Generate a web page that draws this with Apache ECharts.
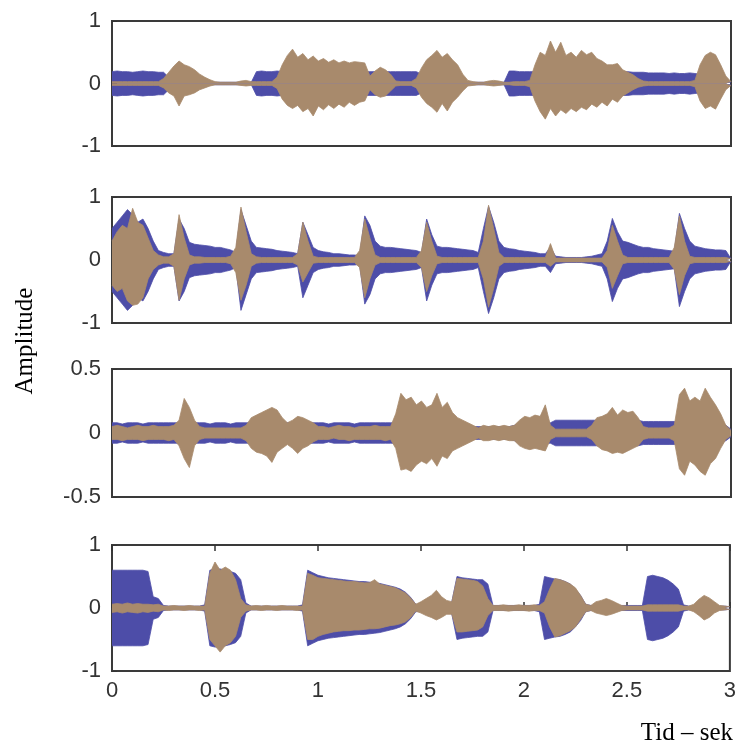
<!DOCTYPE html>
<html>
<head>
<meta charset="utf-8">
<script src="https://cdn.jsdelivr.net/npm/echarts@6/dist/echarts.min.js"></script>
<style>
    html, body { margin: 0; padding: 0; background: #fff; }
    #chart { width: 739px; height: 744px; }
</style>
</head>
<body>
<div id="chart"></div>
<script>
    // envelopes, one value every 0.025 s (0 .. 3 s)
    var dt = 0.025;
    var tidTicks = [0, 0.5, 1, 1.5, 2, 2.5, 3];

    // panel 1
    var blue1 = [
        0.19, 0.2, 0.19, 0.19, 0.18, 0.19, 0.2, 0.19, 0.19, 0.18,
        0.18, 0.1, 0.02, 0.02, 0.02, 0.02, 0.02, 0.02, 0.02, 0.02,
        0.02, 0.02, 0.02, 0.02, 0.02, 0.02, 0.02, 0.02, 0.19, 0.2,
        0.19, 0.19, 0.2, 0.19, 0.19, 0.19, 0.19, 0.2, 0.19, 0.19,
        0.19, 0.19, 0.19, 0.2, 0.19, 0.19, 0.19, 0.19, 0.19, 0.19,
        0.19, 0.19, 0.19, 0.19, 0.19, 0.19, 0.19, 0.19, 0.19, 0.19,
        0.15, 0.02, 0.02, 0.02, 0.02, 0.02, 0.02, 0.02, 0.02, 0.02,
        0.02, 0.02, 0.02, 0.02, 0.02, 0.02, 0.02, 0.2, 0.2, 0.19,
        0.19, 0.19, 0.19, 0.19, 0.19, 0.19, 0.19, 0.19, 0.19, 0.19,
        0.19, 0.19, 0.19, 0.19, 0.19, 0.19, 0.19, 0.19, 0.19, 0.19,
        0.19, 0.18, 0.18, 0.18, 0.17, 0.17, 0.17, 0.17, 0.16, 0.17,
        0.16, 0.16, 0.17, 0.16, 0.15, 0.04, 0.02, 0.02, 0.02, 0.02,
        0.02
    ];
    var brown1Top = [
        0.03, 0.03, 0.03, 0.03, 0.03, 0.03, 0.03, 0.03, 0.03, 0.03,
        0.08, 0.18, 0.28, 0.36, 0.3, 0.27, 0.22, 0.15, 0.1, 0.06,
        0.03, 0.02, 0.02, 0.02, 0.02, 0.04, 0.05, 0.03, 0.03, 0.03,
        0.03, 0.03, 0.1, 0.3, 0.45, 0.55, 0.42, 0.48, 0.38, 0.44,
        0.36, 0.4, 0.34, 0.38, 0.33, 0.36, 0.33, 0.35, 0.34, 0.33,
        0.12, 0.2, 0.26, 0.22, 0.15, 0.04, 0.03, 0.03, 0.03, 0.08,
        0.25, 0.38, 0.45, 0.53, 0.42, 0.48, 0.38, 0.3, 0.15, 0.05,
        0.03, 0.02, 0.02, 0.04, 0.05, 0.04, 0.02, 0.02, 0.03, 0.03,
        0.03, 0.05, 0.3, 0.5, 0.45, 0.68, 0.5, 0.66, 0.45, 0.5,
        0.42, 0.53, 0.46, 0.5, 0.4, 0.36, 0.3, 0.3, 0.32, 0.22,
        0.18, 0.14, 0.08, 0.04, 0.03, 0.03, 0.03, 0.03, 0.03, 0.03,
        0.03, 0.03, 0.03, 0.05, 0.3, 0.45, 0.5, 0.46, 0.3, 0.12,
        0.03
    ];
    var brown1Bot = [
        0.03, 0.03, 0.03, 0.03, 0.03, 0.03, 0.03, 0.03, 0.03, 0.03,
        0.07, 0.15, 0.2, 0.36, 0.2, 0.18, 0.15, 0.1, 0.07, 0.04,
        0.02, 0.02, 0.02, 0.02, 0.02, 0.03, 0.04, 0.03, 0.03, 0.03,
        0.03, 0.03, 0.08, 0.25, 0.35, 0.4, 0.35, 0.45, 0.4, 0.52,
        0.36, 0.42, 0.34, 0.4, 0.33, 0.38, 0.3, 0.35, 0.3, 0.28,
        0.1, 0.18, 0.22, 0.2, 0.12, 0.04, 0.03, 0.03, 0.03, 0.07,
        0.22, 0.32, 0.38, 0.46, 0.32, 0.44, 0.3, 0.22, 0.12, 0.04,
        0.03, 0.02, 0.02, 0.03, 0.04, 0.03, 0.02, 0.02, 0.03, 0.03,
        0.03, 0.05, 0.28, 0.45, 0.57, 0.4, 0.52, 0.42, 0.48, 0.4,
        0.45, 0.38, 0.42, 0.33, 0.38, 0.3, 0.36, 0.25, 0.3, 0.2,
        0.15, 0.1, 0.06, 0.04, 0.03, 0.03, 0.03, 0.03, 0.03, 0.03,
        0.03, 0.03, 0.03, 0.05, 0.28, 0.4, 0.36, 0.41, 0.25, 0.1,
        0.03
    ];

    // panel 2
    var blue2 = [
        0.5, 0.6, 0.7, 0.8, 0.72, 0.6, 0.65, 0.5, 0.3, 0.15,
        0.12, 0.1, 0.1, 0.65, 0.5, 0.28, 0.25, 0.24, 0.23, 0.22,
        0.2, 0.2, 0.18, 0.16, 0.12, 0.8, 0.55, 0.3, 0.2, 0.19,
        0.18, 0.17, 0.15, 0.14, 0.13, 0.12, 0.1, 0.6, 0.4, 0.2,
        0.15, 0.13, 0.12, 0.1, 0.1, 0.09, 0.08, 0.08, 0.07, 0.7,
        0.55, 0.3, 0.22, 0.2, 0.2, 0.19, 0.18, 0.17, 0.16, 0.15,
        0.12, 0.65, 0.4, 0.22, 0.2, 0.2, 0.19, 0.18, 0.17, 0.16,
        0.15, 0.12, 0.5, 0.85, 0.6, 0.3, 0.2, 0.18, 0.17, 0.15,
        0.14, 0.13, 0.12, 0.1, 0.1, 0.2, 0.06, 0.05, 0.04, 0.04,
        0.04, 0.04, 0.05, 0.06, 0.08, 0.1, 0.3, 0.66, 0.45, 0.3,
        0.28, 0.25, 0.22, 0.2, 0.2, 0.18, 0.17, 0.16, 0.15, 0.14,
        0.74, 0.5, 0.3, 0.22, 0.2, 0.18, 0.17, 0.16, 0.16, 0.15,
        0.02
    ];
    var brown2Top = [
        0.3, 0.45, 0.55, 0.5, 0.82, 0.6, 0.55, 0.35, 0.15, 0.08,
        0.05, 0.05, 0.1, 0.72, 0.35, 0.08, 0.05, 0.05, 0.04, 0.04,
        0.04, 0.04, 0.04, 0.06, 0.2, 0.84, 0.45, 0.1, 0.05, 0.04,
        0.04, 0.04, 0.04, 0.04, 0.04, 0.04, 0.1, 0.6, 0.3, 0.06,
        0.04, 0.04, 0.04, 0.04, 0.04, 0.04, 0.04, 0.04, 0.15, 0.65,
        0.35, 0.08, 0.04, 0.04, 0.04, 0.04, 0.04, 0.04, 0.04, 0.04,
        0.15, 0.6, 0.3, 0.06, 0.04, 0.04, 0.04, 0.04, 0.04, 0.04,
        0.04, 0.04, 0.3, 0.87, 0.5, 0.12, 0.04, 0.04, 0.04, 0.04,
        0.04, 0.04, 0.04, 0.04, 0.04, 0.26, 0.03, 0.03, 0.03, 0.03,
        0.03, 0.03, 0.03, 0.03, 0.03, 0.03, 0.15, 0.55, 0.3, 0.08,
        0.04, 0.04, 0.04, 0.04, 0.04, 0.04, 0.04, 0.04, 0.04, 0.2,
        0.7, 0.3, 0.06, 0.04, 0.04, 0.04, 0.04, 0.04, 0.04, 0.04,
        0.02
    ];
    var brown2Bot = [
        0.4, 0.5, 0.45, 0.65, 0.72, 0.7, 0.6, 0.3, 0.15, 0.08,
        0.05, 0.05, 0.1, 0.64, 0.3, 0.08, 0.05, 0.05, 0.04, 0.04,
        0.04, 0.04, 0.04, 0.06, 0.2, 0.64, 0.4, 0.1, 0.05, 0.04,
        0.04, 0.04, 0.04, 0.04, 0.04, 0.04, 0.08, 0.35, 0.2, 0.05,
        0.04, 0.04, 0.04, 0.04, 0.04, 0.04, 0.04, 0.04, 0.12, 0.6,
        0.3, 0.08, 0.04, 0.04, 0.04, 0.04, 0.04, 0.04, 0.04, 0.04,
        0.12, 0.5, 0.25, 0.06, 0.04, 0.04, 0.04, 0.04, 0.04, 0.04,
        0.04, 0.04, 0.3, 0.75, 0.45, 0.1, 0.04, 0.04, 0.04, 0.04,
        0.04, 0.04, 0.04, 0.04, 0.04, 0.1, 0.03, 0.03, 0.03, 0.03,
        0.03, 0.03, 0.03, 0.03, 0.03, 0.03, 0.12, 0.45, 0.25, 0.06,
        0.04, 0.04, 0.04, 0.04, 0.04, 0.04, 0.04, 0.04, 0.04, 0.15,
        0.55, 0.25, 0.06, 0.04, 0.04, 0.04, 0.04, 0.04, 0.04, 0.04,
        0.02
    ];

    // panel 3 (range +-0.5)
    var blue3 = [
        0.08, 0.08, 0.07, 0.08, 0.08, 0.08, 0.07, 0.08, 0.08, 0.08,
        0.08, 0.08, 0.08, 0.08, 0.08, 0.08, 0.08, 0.08, 0.08, 0.07,
        0.08, 0.08, 0.08, 0.07, 0.08, 0.08, 0.08, 0.08, 0.08, 0.08,
        0.08, 0.08, 0.08, 0.08, 0.08, 0.08, 0.08, 0.08, 0.08, 0.08,
        0.08, 0.08, 0.07, 0.08, 0.08, 0.08, 0.08, 0.07, 0.08, 0.08,
        0.08, 0.08, 0.08, 0.08, 0.08, 0.08, 0.08, 0.08, 0.08, 0.08,
        0.08, 0.08, 0.08, 0.08, 0.08, 0.08, 0.07, 0.07, 0.06, 0.06,
        0.05, 0.05, 0.05, 0.05, 0.05, 0.05, 0.05, 0.05, 0.06, 0.08,
        0.08, 0.08, 0.08, 0.08, 0.08, 0.08, 0.1, 0.1, 0.1, 0.1,
        0.1, 0.1, 0.1, 0.1, 0.1, 0.1, 0.1, 0.1, 0.1, 0.1,
        0.1, 0.1, 0.1, 0.09, 0.09, 0.09, 0.09, 0.09, 0.09, 0.09,
        0.08, 0.08, 0.08, 0.08, 0.08, 0.08, 0.08, 0.08, 0.08, 0.06,
        0.03
    ];
    var brown3Top = [
        0.05, 0.06, 0.05, 0.04, 0.05, 0.06, 0.05, 0.05, 0.06, 0.05,
        0.05, 0.05, 0.06, 0.1, 0.27, 0.2, 0.1, 0.05, 0.04, 0.04,
        0.04, 0.04, 0.04, 0.04, 0.04, 0.04, 0.06, 0.12, 0.14, 0.16,
        0.18, 0.2, 0.18, 0.12, 0.08, 0.1, 0.13, 0.12, 0.1, 0.08,
        0.05, 0.05, 0.04, 0.05, 0.06, 0.05, 0.05, 0.04, 0.05, 0.05,
        0.05, 0.06, 0.05, 0.05, 0.05, 0.15, 0.31, 0.26, 0.28, 0.22,
        0.25, 0.2, 0.22, 0.31, 0.2, 0.24, 0.16, 0.12, 0.1, 0.08,
        0.06, 0.04, 0.06, 0.05, 0.06, 0.05, 0.06, 0.05, 0.06, 0.1,
        0.13, 0.12, 0.14, 0.13, 0.22, 0.06, 0.03, 0.03, 0.03, 0.03,
        0.03, 0.03, 0.03, 0.06, 0.12, 0.13, 0.15, 0.2, 0.14, 0.18,
        0.16, 0.17, 0.12, 0.05, 0.04, 0.04, 0.04, 0.04, 0.04, 0.06,
        0.3, 0.35, 0.25, 0.28, 0.25, 0.35, 0.28, 0.22, 0.15, 0.06,
        0.02
    ];
    var brown3Bot = [
        0.05, 0.05, 0.06, 0.05, 0.05, 0.05, 0.06, 0.05, 0.05, 0.05,
        0.05, 0.06, 0.05, 0.1, 0.2, 0.27, 0.1, 0.05, 0.04, 0.04,
        0.04, 0.04, 0.04, 0.04, 0.04, 0.04, 0.06, 0.12, 0.15, 0.16,
        0.18, 0.23, 0.15, 0.12, 0.09, 0.12, 0.16, 0.12, 0.1, 0.07,
        0.05, 0.05, 0.05, 0.04, 0.05, 0.05, 0.06, 0.05, 0.05, 0.05,
        0.05, 0.05, 0.05, 0.06, 0.05, 0.12, 0.29, 0.28, 0.3, 0.25,
        0.22, 0.24, 0.2, 0.26, 0.18, 0.2, 0.14, 0.12, 0.1, 0.08,
        0.06, 0.04, 0.06, 0.06, 0.05, 0.06, 0.05, 0.06, 0.06, 0.1,
        0.12, 0.13, 0.12, 0.13, 0.14, 0.05, 0.03, 0.03, 0.03, 0.03,
        0.03, 0.03, 0.03, 0.05, 0.1, 0.13, 0.14, 0.16, 0.15, 0.16,
        0.14, 0.12, 0.1, 0.05, 0.04, 0.04, 0.04, 0.04, 0.04, 0.06,
        0.28, 0.33, 0.22, 0.25, 0.3, 0.33, 0.24, 0.2, 0.12, 0.05,
        0.02
    ];

    // panel 4
    var blue4 = [
        0.6, 0.6, 0.6, 0.6, 0.6, 0.6, 0.6, 0.58, 0.18, 0.15,
        0.04, 0.03, 0.03, 0.03, 0.03, 0.03, 0.03, 0.03, 0.05, 0.6,
        0.62, 0.62, 0.6, 0.58, 0.55, 0.45, 0.08, 0.03, 0.03, 0.03,
        0.03, 0.03, 0.03, 0.03, 0.03, 0.03, 0.03, 0.05, 0.6, 0.56,
        0.52, 0.5, 0.48, 0.47, 0.46, 0.45, 0.44, 0.43, 0.42, 0.42,
        0.41, 0.4, 0.39, 0.37, 0.35, 0.33, 0.3, 0.25, 0.17, 0.06,
        0.05, 0.05, 0.05, 0.05, 0.05, 0.05, 0.1, 0.5, 0.48, 0.47,
        0.46, 0.45, 0.45, 0.38, 0.04, 0.04, 0.04, 0.04, 0.04, 0.04,
        0.04, 0.04, 0.04, 0.06, 0.5, 0.48, 0.46, 0.45, 0.42, 0.38,
        0.3, 0.2, 0.06, 0.04, 0.04, 0.04, 0.04, 0.04, 0.04, 0.04,
        0.04, 0.04, 0.04, 0.04, 0.5, 0.52, 0.5, 0.48, 0.44, 0.38,
        0.3, 0.05, 0.03, 0.03, 0.03, 0.03, 0.03, 0.03, 0.03, 0.03,
        0.02
    ];
    var brown4Top = [
        0.06, 0.07, 0.06, 0.08, 0.06, 0.07, 0.06, 0.06, 0.05, 0.06,
        0.03, 0.03, 0.04, 0.03, 0.03, 0.04, 0.03, 0.03, 0.03, 0.55,
        0.73, 0.6, 0.65, 0.6, 0.45, 0.15, 0.05, 0.03, 0.04, 0.03,
        0.04, 0.03, 0.03, 0.04, 0.03, 0.03, 0.03, 0.03, 0.55, 0.52,
        0.48, 0.47, 0.46, 0.45, 0.44, 0.43, 0.42, 0.42, 0.41, 0.4,
        0.4, 0.45, 0.38, 0.36, 0.34, 0.32, 0.28, 0.24, 0.16, 0.06,
        0.1, 0.15, 0.2, 0.28, 0.18, 0.12, 0.1, 0.47, 0.46, 0.45,
        0.44, 0.42, 0.35, 0.15, 0.04, 0.04, 0.05, 0.04, 0.04, 0.05,
        0.04, 0.04, 0.05, 0.04, 0.1, 0.3, 0.47, 0.45, 0.42, 0.38,
        0.32, 0.2, 0.06, 0.04, 0.1, 0.12, 0.15, 0.12, 0.08, 0.04,
        0.03, 0.03, 0.03, 0.03, 0.05, 0.05, 0.05, 0.05, 0.05, 0.05,
        0.05, 0.03, 0.03, 0.06, 0.14, 0.2, 0.16, 0.1, 0.04, 0.03,
        0.02
    ];
    var brown4Bot = [
        0.07, 0.06, 0.08, 0.06, 0.07, 0.08, 0.06, 0.07, 0.05, 0.06,
        0.03, 0.04, 0.03, 0.03, 0.04, 0.03, 0.03, 0.04, 0.03, 0.5,
        0.6, 0.7, 0.6, 0.55, 0.45, 0.15, 0.05, 0.03, 0.03, 0.04,
        0.03, 0.03, 0.04, 0.03, 0.03, 0.03, 0.04, 0.03, 0.5, 0.5,
        0.45, 0.42, 0.4, 0.38, 0.37, 0.36, 0.36, 0.35, 0.35, 0.34,
        0.33, 0.33, 0.32, 0.3, 0.28, 0.27, 0.25, 0.22, 0.15, 0.05,
        0.08, 0.12, 0.15, 0.19, 0.15, 0.1, 0.1, 0.38, 0.38, 0.37,
        0.36, 0.35, 0.3, 0.12, 0.04, 0.04, 0.04, 0.05, 0.04, 0.04,
        0.04, 0.05, 0.04, 0.04, 0.08, 0.3, 0.46, 0.44, 0.4, 0.36,
        0.3, 0.18, 0.06, 0.04, 0.08, 0.1, 0.12, 0.1, 0.07, 0.04,
        0.03, 0.03, 0.03, 0.03, 0.05, 0.05, 0.05, 0.05, 0.05, 0.05,
        0.05, 0.03, 0.03, 0.06, 0.12, 0.19, 0.15, 0.08, 0.04, 0.03,
        0.02
    ];

    var yRanges = [[-1, 1, 1], [-1, 1, 1], [-0.5, 0.5, 0.5], [-1, 1, 1]];
    var panels = [
        {blue: blue1, top: brown1Top, bot: brown1Bot},
        {blue: blue2, top: brown2Top, bot: brown2Bot},
        {blue: blue3, top: brown3Top, bot: brown3Bot},
        {blue: blue4, top: brown4Top, bot: brown4Bot}
    ];
    var gridTops = [21, 197, 369, 545];
    var gridHeights = [125, 126, 128, 126];

    var BLUE = '#4d4da8';
    var BROWN = '#a88a6c';
    var tickFont = {fontFamily: 'Liberation Sans', fontSize: 22, color: '#333'};

    function toPoints(values, sign) {
        return values.map(function (v, i) {
            return [i * dt, sign * v];
        });
    }

    function waveSeries(values, sign, color, idx, z) {
        return {
            type: 'line',
            xAxisIndex: idx,
            yAxisIndex: idx,
            data: toPoints(values, sign),
            showSymbol: false,
            silent: true,
            z: z,
            lineStyle: {color: color, width: 0.8},
            areaStyle: {color: color, opacity: 1, origin: 'auto'}
        };
    }

    var grid = [], xAxis = [], yAxis = [], series = [];
    panels.forEach(function (p, k) {
        grid.push({
            left: 112, right: 8, top: gridTops[k], height: gridHeights[k],
            show: true, borderColor: '#3a3a3a', borderWidth: 2
        });
        var last = k === panels.length - 1;
        xAxis.push({
            type: 'value', gridIndex: k, min: 0, max: 3, interval: 0.5,
            axisLine: {show: false},
            axisTick: {show: last, inside: true, length: 6, lineStyle: {color: '#333', width: 1.5}},
            axisLabel: Object.assign({show: last, margin: 9, formatter: function (v) {
                return tidTicks.indexOf(v) >= 0 ? String(v) : '';
            }}, tickFont),
            splitLine: {show: false}
        });
        yAxis.push({
            type: 'value', gridIndex: k,
            min: yRanges[k][0], max: yRanges[k][1], interval: yRanges[k][2],
            axisLine: {show: false},
            axisTick: {show: true, inside: true, length: 5, lineStyle: {color: '#333'}},
            axisLabel: Object.assign({margin: 11}, tickFont),
            splitLine: {show: false}
        });
        series.push(waveSeries(p.blue, 1, BLUE, k, 2));
        series.push(waveSeries(p.blue, -1, BLUE, k, 2));
        series.push(waveSeries(p.top, 1, BROWN, k, 3));
        series.push(waveSeries(p.bot, -1, BROWN, k, 3));
    });

    // top ticks of the bottom panel
    xAxis.push({
        type: 'value', gridIndex: 3, position: 'top', min: 0, max: 3, interval: 0.5,
        axisLine: {show: false},
        axisTick: {show: true, inside: true, length: 6, lineStyle: {color: '#333', width: 1.5}},
        axisLabel: {show: false},
        splitLine: {show: false}
    });

    var myChart = echarts.init(document.getElementById('chart'));
    var option = {
        animation: false,
        backgroundColor: '#fff',
        grid: grid,
        xAxis: xAxis,
        yAxis: yAxis,
        series: series,
        graphic: [
            {
                type: 'text', x: 25, y: 341, rotation: Math.PI / 2,
                style: {
                    text: 'Amplitude', font: '25px "Liberation Serif"', fill: '#000',
                    align: 'center', verticalAlign: 'middle'
                }
            },
            {
                type: 'text', x: 733, y: 733,
                style: {
                    text: 'Tid – sek', font: '25px "Liberation Serif"', fill: '#000',
                    align: 'right', verticalAlign: 'middle'
                }
            }
        ]
    };
    myChart.setOption(option);
</script>
</body>
</html>
